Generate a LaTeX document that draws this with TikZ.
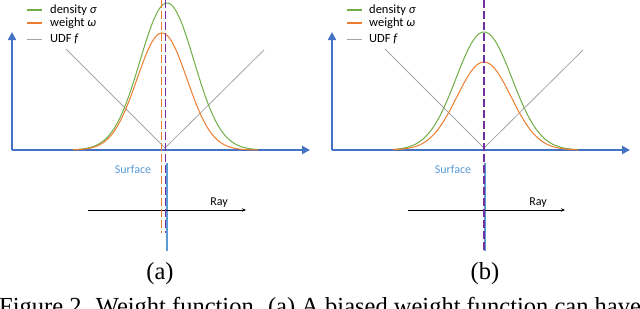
\documentclass[tikz,border=0pt]{standalone}
\usepackage{fontspec}
\setmainfont{Liberation Serif}
\newfontfamily\calib{Carlito}
\usetikzlibrary{arrows.meta}
\definecolor{cgreen}{HTML}{70AD47}
\definecolor{corange}{HTML}{ED7D31}
\definecolor{cgray}{HTML}{A5A5A5}
\definecolor{caxis}{HTML}{4472C4}
\definecolor{csurf}{HTML}{5B9BD5}
\definecolor{cpurple}{HTML}{7030A0}
\tikzset{
  axisline/.style={draw=caxis, line width=2.6pt, -{Triangle[length=8pt,width=8pt]}},
  udfline/.style={draw=cgray, line width=0.8pt},
  greencurve/.style={draw=cgreen, line width=1pt},
  orangecurve/.style={draw=corange, line width=1pt},
  legtext/.style={anchor=west, inner sep=0pt, font=\calib\fontsize{12.5}{14}\selectfont},
  orangedash/.style={draw=corange, line width=1.3pt, dash pattern=on 8pt off 3pt},
  purpledash/.style={draw=cpurple, line width=1.3pt, dash pattern=on 8pt off 3pt},
  surfline/.style={draw=csurf, line width=2pt},
  rayline/.style={draw=black, line width=0.8pt, -{Stealth[length=4pt,width=3.5pt]}},
  surftext/.style={inner sep=0pt, text=csurf, font=\calib\fontsize{12}{14}\selectfont},
  raytext/.style={inner sep=0pt, font=\calib\fontsize{12}{14}\selectfont},
  sublabel/.style={inner sep=0pt, font=\fontsize{24.5}{28}\selectfont},
}
\begin{document}
\begin{tikzpicture}[x=1pt,y=-1pt]
\useasboundingbox (0,0) rectangle (640,308);
\clip (0,0) rectangle (640,308);

% ---------- Panel (a) ----------
\coordinate (aO) at (12,150);
\coordinate (aY) at (12,32);
\coordinate (aX) at (310,150);
\draw[axisline] (aO) -- (aY);
\draw[axisline] (aO) -- (aX);
% UDF
\coordinate (aU1) at (66,49);
\coordinate (aU2) at (165,148);
\coordinate (aU3) at (264,50);
\draw[udfline] (aU1) -- (aU2) -- (aU3);
% curves
\draw[greencurve] plot[domain=73:258, samples=120, smooth] (\x, {150 - 147*exp(-((\x-167)^2)/1458)});
\draw[orangecurve] plot[domain=73:258, samples=120, smooth] (\x, {150 - 117*exp(-((\x-162)^2)/1250)});
% legend
\coordinate (aL1a) at (27,10); \coordinate (aL1b) at (42,10);
\coordinate (aL2a) at (27,23); \coordinate (aL2b) at (42,23);
\coordinate (aL3a) at (27,39); \coordinate (aL3b) at (42,39);
\draw[cgreen, line width=1.8pt] (aL1a) -- (aL1b);
\draw[corange, line width=1.8pt] (aL2a) -- (aL2b);
\draw[cgray, line width=0.8pt] (aL3a) -- (aL3b);
\node[legtext] (aLt1) at (50,10) {density \textit{σ}};
\node[legtext] (aLt2) at (50,23) {weight \textit{ω}};
\node[legtext] (aLt3) at (50,39) {UDF \textit{f}};
% surface and ray
\coordinate (aS1) at (166.7,163);
\coordinate (aS2) at (166.7,251);
\draw[surfline] (aS1) -- (aS2);
\coordinate (aR1) at (88,210);
\coordinate (aR2) at (246,210);
\draw[rayline] (aR1) -- (aR2);
\node[surftext] (aSt) at (133,169) {Surface};
\node[raytext] (aRt) at (219,203) {Ray};
% dashed lines
\coordinate (aD1) at (161.5,0); \coordinate (aD2) at (161.5,233);
\draw[orangedash] (aD1) -- (aD2);
\coordinate (aP1) at (165.5,0); \coordinate (aP2) at (165.5,233);
\draw[purpledash] (aP1) -- (aP2);
\node[sublabel] (alab) at (160,274) {(a)};

% ---------- Panel (b) ----------
\coordinate (bO) at (332,150);
\coordinate (bY) at (332,32);
\coordinate (bX) at (630,150);
\draw[axisline] (bO) -- (bY);
\draw[axisline] (bO) -- (bX);
\coordinate (bU1) at (385,49);
\coordinate (bU2) at (484,148);
\coordinate (bU3) at (583,50);
\draw[udfline] (bU1) -- (bU2) -- (bU3);
\draw[greencurve] plot[domain=393:578, samples=120, smooth] (\x, {150 - 118*exp(-((\x-484)^2)/1568)});
\draw[orangecurve] plot[domain=393:578, samples=120, smooth] (\x, {150 - 88*exp(-((\x-484)^2)/1458)});
\coordinate (bL1a) at (347,10); \coordinate (bL1b) at (362,10);
\coordinate (bL2a) at (347,23); \coordinate (bL2b) at (362,23);
\coordinate (bL3a) at (347,39); \coordinate (bL3b) at (362,39);
\draw[cgreen, line width=1.8pt] (bL1a) -- (bL1b);
\draw[corange, line width=1.8pt] (bL2a) -- (bL2b);
\draw[cgray, line width=0.8pt] (bL3a) -- (bL3b);
\node[legtext] (bLt1) at (369,10) {density \textit{σ}};
\node[legtext] (bLt2) at (369,23) {weight \textit{ω}};
\node[legtext] (bLt3) at (369,39) {UDF \textit{f}};
\coordinate (bS1) at (485,163);
\coordinate (bS2) at (485,251);
\draw[surfline] (bS1) -- (bS2);
\coordinate (bR1) at (408,210);
\coordinate (bR2) at (565,210);
\draw[rayline] (bR1) -- (bR2);
\node[surftext] (bSt) at (453,169) {Surface};
\node[raytext] (bRt) at (538,203) {Ray};
\coordinate (bP1) at (484,0); \coordinate (bP2) at (484,251);
\draw[purpledash] (bP1) -- (bP2);
\node[sublabel] (blab) at (485,274) {(b)};

% ---------- caption (cut off at the bottom, as in the reference) ----------
\node[anchor=base west, inner sep=0pt, font=\fontsize{24.5}{28}\selectfont] (cap) at (-1,314) {Figure 2. Weight function. (a) A biased weight function can have};
\end{tikzpicture}
\end{document}
